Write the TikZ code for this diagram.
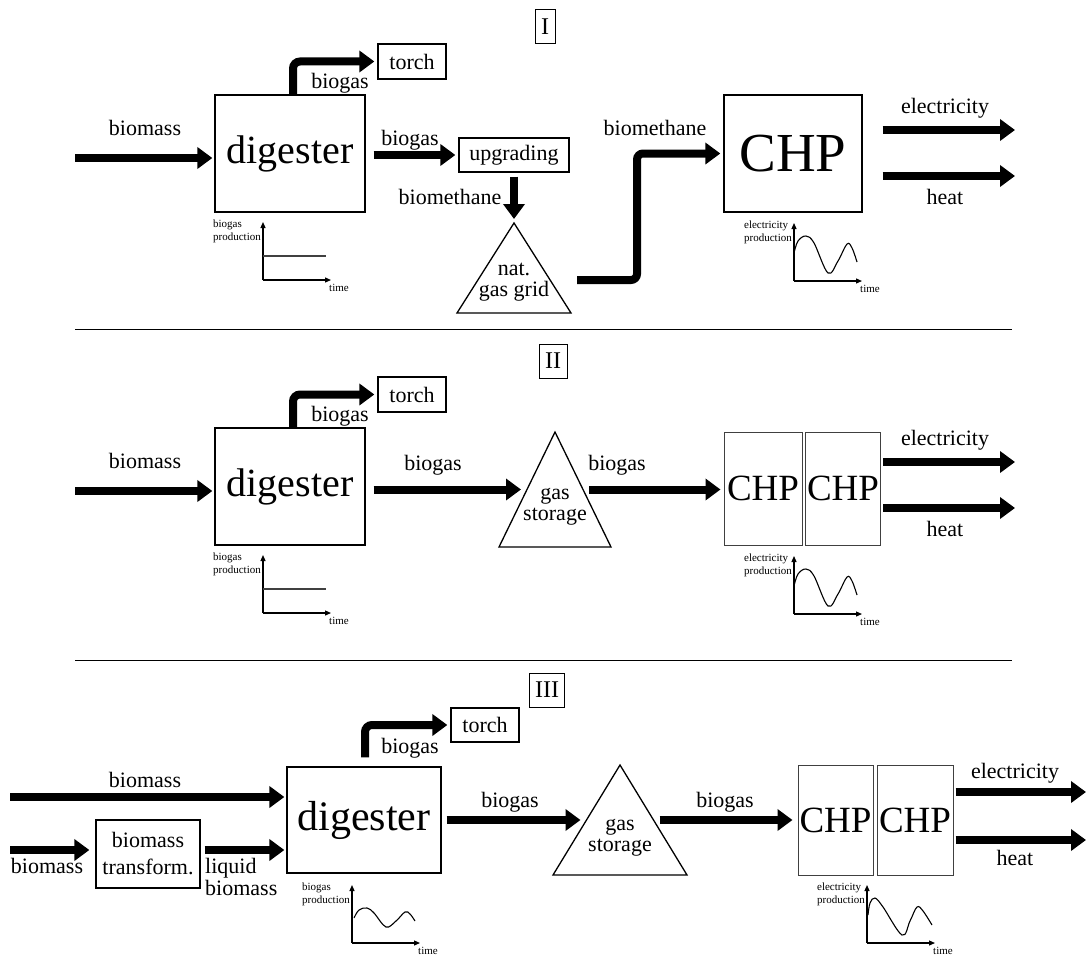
\documentclass[tikz,border=0pt]{standalone}
\usepackage{fontspec}
\setmainfont{Liberation Serif}
\usetikzlibrary{arrows.meta,calc}
\newcommand{\fs}[2][0]{\fontsize{#2}{#2}\selectfont}
\newcommand{\prodaxes}[3]{%
  \begin{scope}[shift={(#1,#2)}]
    \draw[ax] (0,0) -- (0,-58);
    \draw[ax] (0,0) -- (68,0);
    \node[small,anchor=north east] at (-2,-60) {#3\\production};
    \node[small,anchor=north west] at (66,4) {time};
  \end{scope}}
\newcommand{\gastri}[5]{%
  \coordinate (#1-a) at (#2,#3);
  \coordinate (#1-l) at ($(#1-a)+(-#4,#5)$);
  \coordinate (#1-r) at ($(#1-a)+(#4,#5)$);
  \draw[line width=1.3pt] (#1-a) -- (#1-l) -- (#1-r) -- cycle;
  \coordinate (#1-w) at ($(#1-a)!0.5!(#1-l)$);
  \coordinate (#1-e) at ($(#1-a)!0.5!(#1-r)$);}
\begin{document}
\begin{tikzpicture}[x=1pt,y=-1pt,
  fat/.style={line width=8pt,-{Triangle[length=15pt,width=21pt]}},
  box/.style={draw,line width=1.3pt,inner sep=0pt},
  chpbox/.style={draw=black!75,line width=1pt,inner sep=0pt,font=\fs{37}},
  lbl/.style={font=\fs{22},inner sep=0pt},
  tritxt/.style={font=\fontsize{22}{21}\selectfont,align=center,inner sep=0pt},
  tag/.style={draw,line width=1pt,font=\fs{24},inner xsep=6pt,inner ysep=0pt,minimum height=34pt},
  ax/.style={line width=1.2pt,-{Triangle[length=6pt,width=5pt]}},
  small/.style={font=\fontsize{11}{13}\selectfont,inner sep=0pt,align=left},
  wave/.style={line width=1.1pt},
  sep/.style={line width=0.8pt}
]
\useasboundingbox (0,0) rectangle (1086,955);

% ---------------- Section I ----------------
\node[tag] (t1) at (545,27) {I};
\node[box,minimum width=150pt,minimum height=117pt,font=\fs{40}] (dig1) at (290,153.5) {digester};
\node[box,minimum width=68pt,minimum height=35pt,font=\fs{22}] (torch1) at (412,61.5) {torch};
\node[box,minimum width=110pt,minimum height=34pt,font=\fs{22}] (upg) at (514,155) {upgrading};
\node[box,minimum width=138pt,minimum height=117pt,font=\fs{55}] (chp1) at (793,153.5) {CHP};
\gastri{ng}{514}{223}{57}{90}
\node[tritxt] (ngtxt) at (514,282) {nat.\\gas grid};

\coordinate (bm1) at (75,158);
\draw[fat,shorten >=2pt] (bm1) -- (bm1 -| dig1.west);
\node[lbl] at (145,128) {biomass};
\draw[fat,rounded corners=7pt,shorten >=3pt] ([xshift=3pt]dig1.north) |- (torch1.west);
\node[lbl] at (340,83) {biogas};
\draw[fat,shorten <=8pt,shorten >=3pt] (dig1.east |- upg.west) -- (upg.west);
\node[lbl] at (410,140) {biogas};
\draw[fat,shorten <=4pt,shorten >=4pt] (upg.south) -- (ng-a);
\node[lbl] at (450,197) {biomethane};
\coordinate (ngout) at (577,280);
\draw[fat,rounded corners=6pt,shorten >=3pt] (ngout) -- ++(60,0) |- (chp1.west);
\node[lbl] at (655,128) {biomethane};
\coordinate (el1) at (1015,130);
\coordinate (ht1) at (1015,176);
\draw[fat,shorten <=20pt] (chp1.east |- el1) -- (el1);
\draw[fat,shorten <=20pt] (chp1.east |- ht1) -- (ht1);
\node[lbl] at (945,108) {electricity};
\node[lbl] at (945,197) {heat};

\prodaxes{263}{280}{biogas}
\draw[line width=1.2pt,black!75] (263,256) -- (326,256);
\prodaxes{794}{281}{electricity}
\draw[wave,shift={(794,281)}] plot[smooth,tension=0.6] coordinates {(0,-28) (4,-40) (12,-45) (20,-38) (34,-8) (44,-20) (53,-37) (58,-33) (63,-19)};

\draw[sep] (75,329) -- (1012,329);

% ---------------- Section II ----------------
\node[tag] (t2) at (553,361) {II};
\node[box,minimum width=150pt,minimum height=117pt,font=\fs{40}] (dig2) at (290,486.5) {digester};
\node[box,minimum width=68pt,minimum height=35pt,font=\fs{22}] (torch2) at (412,394.5) {torch};
\gastri{gs2}{555}{432}{56}{115}
\node[tritxt] (gs2txt) at (555,507) {gas\\storage};
\node[chpbox,minimum width=78pt,minimum height=113pt] (chp2a) at (763,488.5) {CHP};
\node[chpbox,minimum width=75pt,minimum height=113pt] (chp2b) at (843,488.5) {CHP};

\coordinate (bm2) at (75,491);
\draw[fat,shorten >=2pt] (bm2) -- (bm2 -| dig2.west);
\node[lbl] at (145,461) {biomass};
\draw[fat,rounded corners=7pt,shorten >=3pt] ([xshift=3pt]dig2.north) |- (torch2.west);
\node[lbl] at (340,416) {biogas};
\draw[fat,shorten <=8pt,shorten >=6pt] (dig2.east |- gs2-w) -- (gs2-w);
\node[lbl] at (433,465) {biogas};
\draw[fat,shorten <=6pt,shorten >=3pt] (gs2-e) -- (gs2-e -| chp2a.west);
\node[lbl] at (617,465) {biogas};
\coordinate (el2) at (1015,462);
\coordinate (ht2) at (1015,508);
\draw[fat,shorten <=2pt] (chp2b.east |- el2) -- (el2);
\draw[fat,shorten <=2pt] (chp2b.east |- ht2) -- (ht2);
\node[lbl] at (945,440) {electricity};
\node[lbl] at (945,529) {heat};

\prodaxes{263}{613}{biogas}
\draw[line width=1.2pt,black!75] (263,589) -- (326,589);
\prodaxes{794}{614}{electricity}
\draw[wave,shift={(794,614)}] plot[smooth,tension=0.6] coordinates {(0,-28) (4,-40) (12,-45) (20,-38) (34,-8) (44,-20) (53,-37) (58,-33) (63,-19)};

\draw[sep] (75,660) -- (1012,660);

% ---------------- Section III ----------------
\node[tag] (t3) at (547,690) {III};
\node[box,minimum width=154pt,minimum height=106pt,font=\fs{42}] (dig3) at (364,820) {digester};
\node[box,minimum width=68pt,minimum height=34pt,font=\fs{22}] (torch3) at (485,725) {torch};
\node[box,minimum width=104pt,minimum height=68pt,font=\fontsize{22}{27}\selectfont,align=center] (bt) at (148,854) {biomass\\transform.};
\gastri{gs3}{620}{765}{67}{110}
\node[tritxt] (gs3txt) at (620,838) {gas\\storage};
\node[chpbox,minimum width=75pt,minimum height=110pt] (chp3a) at (835.5,820) {CHP};
\node[chpbox,minimum width=76pt,minimum height=110pt] (chp3b) at (915,820) {CHP};

\draw[fat,rounded corners=7pt,shorten <=9pt,shorten >=3pt] ([xshift=1pt]dig3.north) |- (torch3.west);
\node[lbl] at (410,748) {biogas};
\coordinate (bm3a) at (10,797);
\draw[fat,shorten >=2pt] (bm3a) -- (bm3a -| dig3.west);
\node[lbl] at (145,780) {biomass};
\coordinate (bm3b) at (10,850);
\draw[fat,shorten >=6pt] (bm3b) -- (bm3b -| bt.west);
\node[lbl] at (47,866) {biomass};
\draw[fat,shorten <=4pt,shorten >=2pt] (bt.east |- bm3b) -- (bm3b -| dig3.west);
\node[lbl,align=left,anchor=north west,font=\fontsize{22}{22}\selectfont] at (205,858) {liquid\\biomass};
\draw[fat,shorten <=5pt,shorten >=6pt] (dig3.east |- gs3-w) -- (gs3-w);
\node[lbl] at (510,802) {biogas};
\draw[fat,shorten <=6pt,shorten >=5pt] (gs3-e) -- (gs3-e -| chp3a.west);
\node[lbl] at (725,802) {biogas};
\coordinate (el3) at (1086,792);
\coordinate (ht3) at (1086,840);
\draw[fat,shorten <=2pt] (chp3b.east |- el3) -- (el3);
\draw[fat,shorten <=2pt] (chp3b.east |- ht3) -- (ht3);
\node[lbl] at (1015,773) {electricity};
\node[lbl] at (1015,858) {heat};

\prodaxes{352}{943}{biogas}
\draw[wave,shift={(352,943)}] plot[smooth,tension=0.6] coordinates {(2,-25) (7,-33) (15,-35) (22,-30) (34,-16) (44,-22) (53,-31) (58,-29) (63,-22)};
\prodaxes{867}{943}{electricity}
\draw[wave,shift={(867,943)}] plot[smooth,tension=0.6] coordinates {(1,-28) (3,-40) (8,-45) (16,-36) (35,-8) (43,-22) (50,-36) (56,-32) (65,-18)};
\end{tikzpicture}
\end{document}
